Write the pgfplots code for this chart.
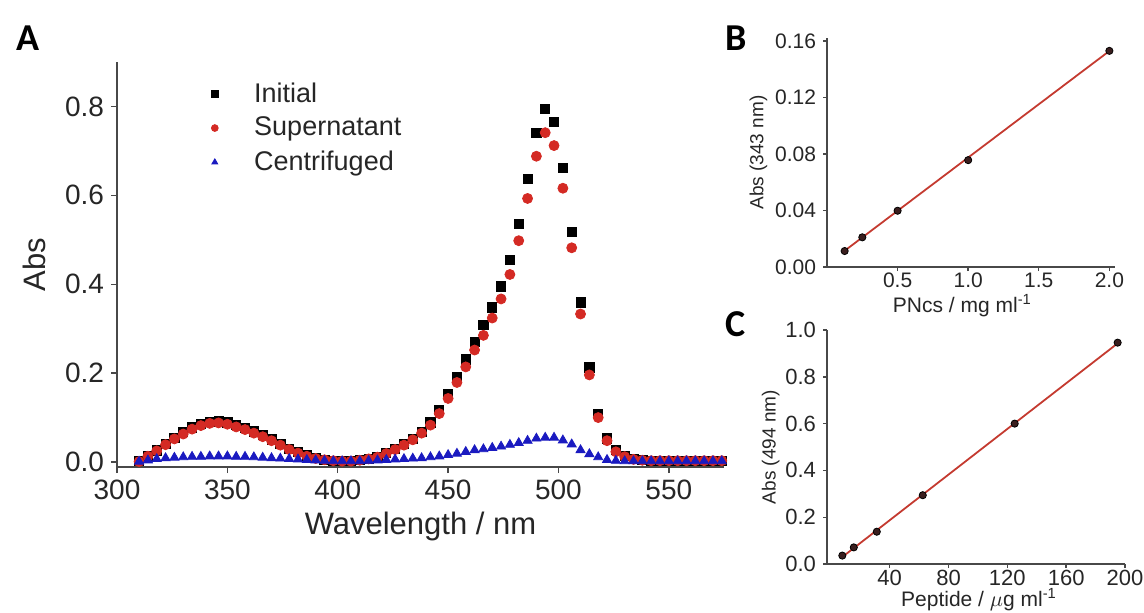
\documentclass[border=0pt]{standalone}
\usepackage{fontspec}
\setmainfont{Liberation Sans}
\newfontfamily\carlito{Carlito}
\usepackage{pgfplots}
\pgfplotsset{compat=1.18}
\usepackage{pgfplotstable}

\definecolor{txt}{HTML}{262626}
\definecolor{axc}{HTML}{484848}
\definecolor{redm}{HTML}{D42A24}
\definecolor{bluem}{HTML}{1A1AC0}
\definecolor{fitred}{HTML}{C43A30}
\definecolor{dotc}{HTML}{3A1E1E}

\pgfplotstableread{
x y
310 0.002
314 0.014
318 0.026
322 0.041
326 0.055
330 0.067
334 0.078
338 0.086
342 0.091
346 0.092
350 0.089
354 0.083
358 0.077
362 0.069
366 0.061
370 0.051
374 0.041
378 0.030
382 0.022
386 0.015
390 0.009
394 0.005
398 0.003
402 0.002
406 0.002
410 0.004
414 0.007
418 0.012
422 0.020
426 0.029
430 0.040
434 0.052
438 0.068
442 0.089
446 0.118
450 0.154
454 0.192
458 0.231
462 0.270
466 0.308
470 0.348
474 0.395
478 0.455
482 0.535
486 0.637
490 0.740
494 0.795
498 0.766
502 0.662
506 0.518
510 0.359
514 0.213
518 0.109
522 0.053
526 0.027
530 0.014
534 0.007
538 0.004
542 0.003
546 0.003
550 0.003
554 0.003
558 0.003
562 0.003
566 0.003
570 0.003
574 0.003
}\initial

\pgfplotstableread{
x y
310 0.001
314 0.013
318 0.025
322 0.039
326 0.052
330 0.063
334 0.074
338 0.082
342 0.087
346 0.088
350 0.085
354 0.079
358 0.073
362 0.065
366 0.057
370 0.048
374 0.038
378 0.028
382 0.020
386 0.013
390 0.008
394 0.005
398 0.003
402 0.002
406 0.002
410 0.004
414 0.007
418 0.011
422 0.019
426 0.028
430 0.038
434 0.050
438 0.065
442 0.083
446 0.109
450 0.143
454 0.179
458 0.214
462 0.252
466 0.285
470 0.324
474 0.367
478 0.422
482 0.498
486 0.593
490 0.688
494 0.741
498 0.712
502 0.616
506 0.482
510 0.333
514 0.196
518 0.100
522 0.048
526 0.023
530 0.012
534 0.006
538 0.004
542 0.003
546 0.003
550 0.003
554 0.003
558 0.003
562 0.003
566 0.003
570 0.003
574 0.003
}\supernatant

\pgfplotstableread{
x y
310 0.001
314 0.004
318 0.007
322 0.009
326 0.010
330 0.011
334 0.012
338 0.012
342 0.013
346 0.013
350 0.013
354 0.012
358 0.012
362 0.011
366 0.010
370 0.009
374 0.008
378 0.007
382 0.006
386 0.005
390 0.004
394 0.003
398 0.002
402 0.002
406 0.002
410 0.002
414 0.003
418 0.004
422 0.005
426 0.006
430 0.007
434 0.008
438 0.009
442 0.011
446 0.013
450 0.016
454 0.019
458 0.023
462 0.027
466 0.029
470 0.032
474 0.035
478 0.039
482 0.043
486 0.048
490 0.053
494 0.055
498 0.055
502 0.049
506 0.040
510 0.027
514 0.018
518 0.011
522 0.005
526 0.003
530 0.002
534 0.002
538 0.002
542 0.002
546 0.002
550 0.002
554 0.002
558 0.002
562 0.002
566 0.002
570 0.002
574 0.002
}\centrifuged

\pgfplotstableread{
x y
0.125 0.0113
0.25 0.021
0.5 0.0398
1.0 0.0756
2.0 0.1529
}\pncs

\pgfplotstableread{
x y
7.8 0.036
15.6 0.071
31.25 0.138
62.5 0.294
125 0.600
195 0.946
}\peptide

\pgfplotsset{
  panel/.style={
    scale only axis,
    axis x line*=bottom, axis y line*=left,
    tick align=outside,
    axis line style={axc, line width=0.7pt},
    tick style={axc, line width=0.7pt},
    /pgf/number format/assume math mode=true,
    every tick label/.append style={text=txt},
    label style={text=txt},
    clip=false,
  }
}

\begin{document}
\begin{tikzpicture}
\path[use as bounding box] (0,0) rectangle (572pt,306pt);

% Panel A
\begin{axis}[panel,
  at={(58.5pt,72.5pt)}, anchor=south west,
  width=303.5pt, height=202.5pt,
  xmin=300, xmax=575, ymin=-0.0112, ymax=0.9,
  xtick={300,350,400,450,500,550},
  ytick={0,0.2,0.4,0.6,0.8},
  major tick length=3pt,
  yticklabel style={/pgf/number format/.cd, fixed, fixed zerofill, precision=1},
  ticklabel style={font=\fontsize{14}{14}\selectfont},
  xlabel={Wavelength / nm}, ylabel={Abs},
  label style={font=\fontsize{15.5}{15.5}\selectfont},
  xlabel style={yshift=1pt},
  ylabel style={yshift=2.5pt},
  legend style={at={(rel axis cs:0.145,0.97)}, anchor=north west, draw=none, fill=none,
    font=\fontsize{13.5}{13.5}\selectfont, text=txt, row sep=2pt,
    /tikz/every odd column/.append style={column sep=16pt}},
  legend cell align=left,
  legend image post style={mark size=1.7pt},
]
\addplot[only marks, mark=square*, mark size=2.3pt, color=black] table {\initial};
\addlegendentry{Initial}
\addplot[only marks, mark=*, mark size=2.5pt, color=redm] table {\supernatant};
\addlegendentry{Supernatant}
\addplot[only marks, mark=triangle*, mark size=2.6pt, color=bluem] table {\centrifuged};
\addlegendentry{Centrifuged}
\end{axis}

% Panel B
\begin{axis}[panel,
  at={(413.5pt,172.5pt)}, anchor=south west,
  width=144pt, height=114.5pt,
  xmin=0, xmax=2.04, ymin=0, ymax=0.162,
  xtick={0.5,1.0,1.5,2.0},
  ytick={0,0.04,0.08,0.12,0.16},
  major tick length=2pt,
  xticklabel style={yshift=2.5pt, /pgf/number format/.cd, fixed, fixed zerofill, precision=1},
  yticklabel style={/pgf/number format/.cd, fixed, fixed zerofill, precision=2},
  ticklabel style={font=\fontsize{10.5}{10.5}\selectfont},
  xlabel={PNcs / mg ml\textsuperscript{-1}}, ylabel={Abs (343 nm)},
  xlabel style={font=\fontsize{10.5}{10.5}\selectfont, at={(axis description cs:0.47,0)}, anchor=center, yshift=-19.5pt},
  ylabel style={font=\fontsize{9.5}{9.5}\selectfont, yshift=-3pt},
]
\addplot[fitred, line width=0.9pt, no marks] coordinates {(0.125,0.0115) (2.0,0.1528)};
\addplot[only marks, mark=*, mark size=1.8pt, mark options={draw=black, fill=dotc}] table {\pncs};
\end{axis}

% Panel C
\begin{axis}[panel,
  at={(413.5pt,24pt)}, anchor=south west,
  width=149pt, height=117pt,
  xmin=-2.6, xmax=200, ymin=0, ymax=1.0,
  xtick={40,80,120,160,200},
  ytick={0,0.2,0.4,0.6,0.8,1.0},
  major tick length=2pt,
  yticklabel style={/pgf/number format/.cd, fixed, fixed zerofill, precision=1},
  xticklabel style={yshift=2.5pt},
  ticklabel style={font=\fontsize{11}{11}\selectfont},
  xlabel={Peptide / $\mu$g ml\textsuperscript{-1}}, ylabel={Abs (494 nm)},
  xlabel style={font=\fontsize{10.5}{10.5}\selectfont, at={(axis description cs:0.51,0)}, anchor=center, yshift=-18pt},
  ylabel style={font=\fontsize{9.5}{9.5}\selectfont, yshift=-4pt},
]
\addplot[fitred, line width=0.9pt, no marks] coordinates {(7.8,0.030) (195,0.943)};
\addplot[only marks, mark=*, mark size=1.8pt, mark options={draw=black, fill=dotc}] table {\peptide};
\end{axis}

\node[font=\carlito\bfseries\fontsize{19}{19}\selectfont] at (14pt,287pt) {A};
\node[font=\carlito\bfseries\fontsize{19}{19}\selectfont] at (368pt,287pt) {B};
\node[font=\carlito\bfseries\fontsize{19}{19}\selectfont] at (368pt,144pt) {C};
\end{tikzpicture}
\end{document}
